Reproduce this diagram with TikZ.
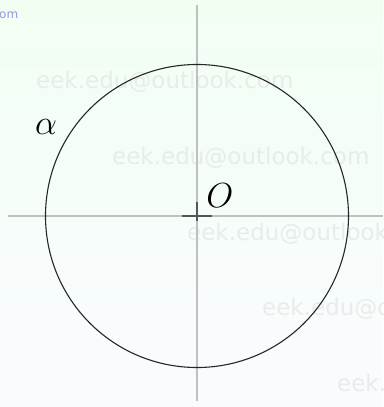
\documentclass[tikz,border=0pt]{standalone}
\usepackage{fontspec}
\newfontfamily\wmfont{DejaVu Sans}
\definecolor{bgtop}{RGB}{241,255,243}
\definecolor{bgbot}{RGB}{250,251,255}
\definecolor{wmgray}{RGB}{232,236,234}
\definecolor{axisgray}{RGB}{192,192,192}
\definecolor{crossgray}{RGB}{85,85,85}
\definecolor{wmblue}{RGB}{150,150,230}
\tikzset{
  axisline/.style={draw=axisgray, line width=1.2pt},
  crossline/.style={draw=crossgray, line width=1.3pt},
  circleline/.style={draw=black!85, line width=1.1pt},
  watermark/.style={anchor=base west, inner sep=0pt, text=wmgray, font=\wmfont\fontsize{23}{26}\selectfont},
  biglabel/.style={inner sep=0pt, font=\fontsize{24.88}{28}\selectfont}
}
\newcommand{\bigmath}[1]{\scalebox{1.4}{$#1$}}
\begin{document}
\begin{tikzpicture}[x=1pt,y=-1pt]
\useasboundingbox (0,0) rectangle (383,407);
\shade[top color=bgtop, bottom color=bgbot] (0,0) rectangle (383,407);
% watermarks
\node[anchor=base west, inner sep=0pt, text=wmblue, font=\wmfont\fontsize{12}{14}\selectfont] (wm0) at (-1,18) {om};
\node[watermark] (wm1) at (36,88) {eek.edu@outlook.com};
\node[watermark] (wm2) at (112,164) {eek.edu@outlook.com};
\node[watermark] (wm3) at (187,240) {eek.edu@outlook.com};
\node[watermark] (wm4) at (262,315) {eek.edu@outlook.com};
\node[watermark] (wm5) at (337,391) {eek.edu@outlook.com};
% axes
\coordinate (O) at (197,216);
\coordinate (xl) at (8,216);
\coordinate (xr) at (383,216);
\coordinate (yt) at (197,5);
\coordinate (yb) at (197,401);
\draw[axisline] (xl) -- (xr);
\draw[axisline] (yt) -- (yb);
% cross
\draw[crossline] ([xshift=-15pt]O) -- ([xshift=15pt]O);
\draw[crossline] ([yshift=14pt]O) -- ([yshift=-5pt]O);
% circle
\draw[circleline] (O) circle[radius=151.5pt];
% labels
\node[biglabel] (Olab) at (220,196) {\bigmath{O}};
\node[biglabel] (alab) at (46,127) {\bigmath{\alpha}};
\end{tikzpicture}
\end{document}
